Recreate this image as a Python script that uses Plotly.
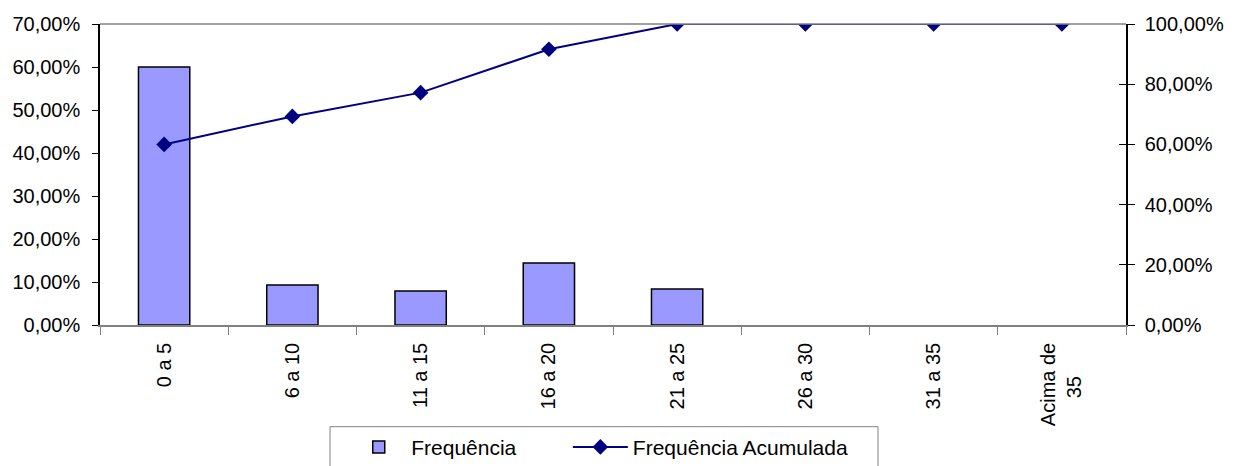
import plotly.graph_objects as go

NB = "\u00a0"
categories = ["0 a 5", "6 a 10", "11 a 15", "16 a 20", "21 a 25", "26 a 30", "31 a 35",
              "Acima de<br>35" + NB * 6]
frequencia = [0.600, 0.093, 0.079, 0.144, 0.084, 0.0, 0.0, 0.0]
freq_acumulada = [0.600, 0.693, 0.772, 0.916, 1.000, 1.000, 1.000, 1.000]

font_family = "Liberation Sans, Arial, sans-serif"
FS = 20

bar_line_widths = [1.5 if v > 0 else 0 for v in frequencia]

fig = go.Figure()
fig.add_trace(go.Bar(
    x=categories, y=frequencia, name="Frequência",
    marker=dict(color="#9999FF", line=dict(color="black", width=bar_line_widths)),
    yaxis="y", legend="legend",
))
fig.add_trace(go.Scatter(
    x=categories, y=freq_acumulada, name="Frequência Acumulada",
    mode="lines+markers",
    line=dict(color="#000080", width=2),
    marker=dict(symbol="diamond", size=12, color="#000080"),
    yaxis="y2", legend="legend2",
))
# helper trace for the inner half of the crossing ticks on the right axis
fig.add_trace(go.Scatter(x=[], y=[], yaxis="y3", showlegend=False, hoverinfo="skip"))

legend_common = dict(
    orientation="h", xanchor="left", y=-0.338, yanchor="top",
    borderwidth=0, bgcolor="rgba(0,0,0,0)",
    font=dict(size=21), itemwidth=55,
)

fig.update_layout(
    template="none",
    width=1228, height=458,
    margin=dict(l=92, r=110, t=16, b=141, autoexpand=False),
    paper_bgcolor="white", plot_bgcolor="white",
    separators=",.",
    font=dict(family=font_family, size=FS, color="black"),
    bargap=0.6,
    showlegend=True,
    legend=dict(x=0.24, **legend_common),
    legend2=dict(x=0.456, **legend_common),
    xaxis=dict(
        type="category", tickangle=-90, automargin=False,
        showline=True, linecolor="#808080", linewidth=1.5,
        ticks="outside", tickson="boundaries", ticklen=8, tickcolor="#808080",
        showgrid=False, zeroline=False, ticklabelstandoff=8,
    ),
    yaxis=dict(
        range=[0, 0.7], dtick=0.1, tickformat=".2%", automargin=False,
        showline=True, linecolor="black", linewidth=1.5,
        ticks="outside", ticklen=6, tickcolor="black",
        showgrid=False, zeroline=False, ticklabelstandoff=8,
    ),
    yaxis2=dict(
        range=[0, 1.0], dtick=0.2, tickformat=".2%", automargin=False,
        overlaying="y", side="right",
        showline=True, linecolor="black", linewidth=1.5,
        ticks="outside", ticklen=7, tickcolor="black",
        showgrid=False, zeroline=False, ticklabelstandoff=6,
    ),
    yaxis3=dict(
        range=[0, 1.0], dtick=0.2, automargin=False,
        overlaying="y", side="right",
        showline=False, showticklabels=False,
        ticks="inside", ticklen=7, tickcolor="black",
        showgrid=False, zeroline=False,
    ),
)

# top border line (gridline at top of plot area)
fig.add_shape(type="line", xref="paper", yref="paper", x0=0, x1=1, y0=1, y1=1,
              line=dict(color="#808080", width=1.5))
# frame enclosing both legend entries (runs off the bottom edge, as in the reference)
fig.add_shape(type="rect", xref="paper", yref="paper", x0=0.2242, x1=0.7583, y0=-0.3378, y1=-0.6,
              line=dict(color="#808080", width=1))

fig.write_html("out.html")
